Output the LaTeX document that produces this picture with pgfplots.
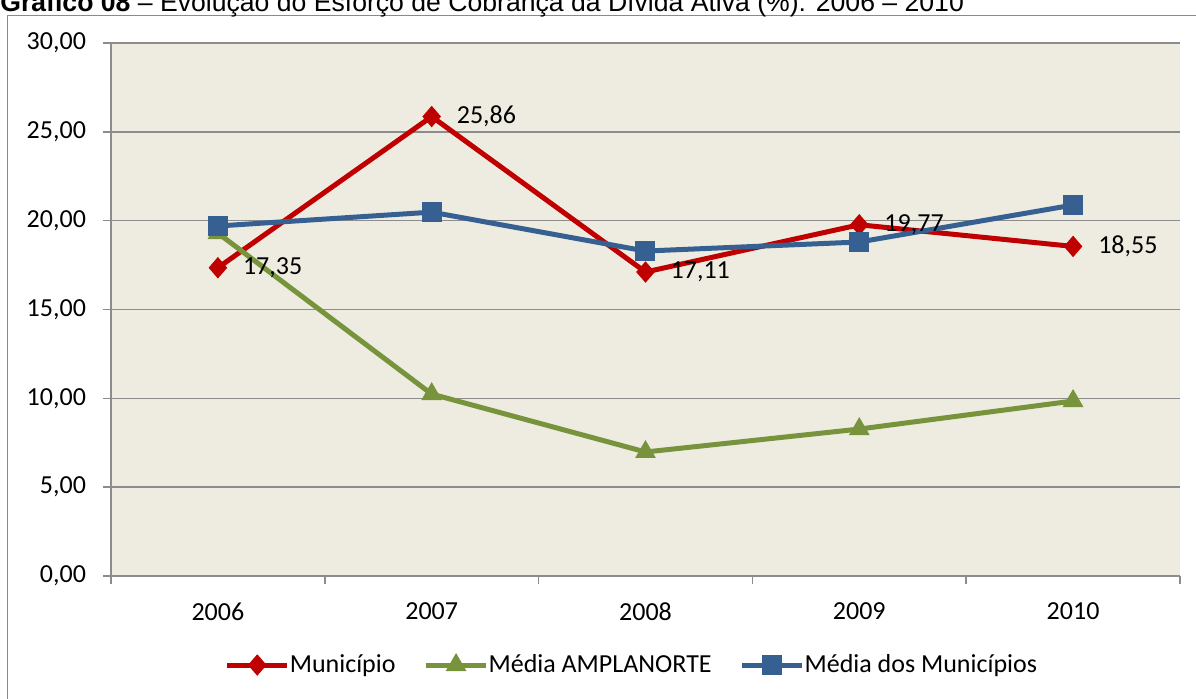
\documentclass[border=0pt]{standalone}
\usepackage{fontspec}
\setmainfont{Carlito}
\newfontfamily\arialfont{Liberation Sans}
\usepackage{pgfplots}
\pgfplotsset{compat=1.18}
\definecolor{cred}{HTML}{C00000}
\definecolor{cgreen}{HTML}{77933C}
\definecolor{cblue}{HTML}{376092}
\definecolor{bg}{HTML}{EEECE1}
\definecolor{gridgray}{HTML}{8C8C8C}
\definecolor{framegray}{HTML}{8A8A8A}
\begin{document}
\begin{tikzpicture}
\useasboundingbox (0,0) rectangle (598pt,349pt);
\draw[framegray, line width=0.75pt] (3.75pt,-5pt) -- (3.75pt,341.25pt) -- (610pt,341.25pt);
\node[anchor=base west, inner sep=0pt, font=\arialfont\fontsize{13.3}{15}\selectfont] at (0pt,343pt) {\textbf{Gráfico 08} – Evolução do Esforço de Cobrança da Dívida Ativa (\%): 2006 – 2010};
\begin{axis}[
  at={(55.5pt,61pt)}, anchor=south west, scale only axis,
  width=534.5pt, height=266.5pt,
  xmin=-0.5, xmax=4.5, ymin=0, ymax=30,
  axis x line*=bottom, axis y line*=left,
  axis line style={draw=gridgray, line width=0.75pt},
  xtick={0,1,2,3,4}, xticklabels={2006,2007,2008,2009,2010},
  minor xtick={-0.5,0.5,1.5,2.5,3.5,4.5},
  every major x tick/.append style={draw=none},
  xticklabel shift=6pt,
  ytick={0,5,10,15,20,25,30},
  tick align=outside, major tick length=4pt, minor tick length=4pt,
  tick style={draw=gridgray, line width=0.75pt},
  ymajorgrids, grid style={draw=gridgray, line width=0.75pt},
  axis background/.style={fill=bg},
  yticklabel shift=5pt,
  yticklabel style={/pgf/number format/.cd, fixed, fixed zerofill, precision=2, use comma},
  /pgf/number format/assume math mode=true,
  tick label style={font=\fontsize{13}{15}\selectfont, text=black},
  legend style={at={(0.4864,-0.167)}, anchor=center, draw=none, fill=none,
    legend columns=-1, font=\fontsize{13}{15}\selectfont,
    /tikz/every even column/.append style={column sep=14pt},
    nodes={inner xsep=0pt}},
  legend image code/.code={\draw[#1, mark repeat=2, mark phase=2] plot coordinates {(0pt,0pt) (15pt,0pt) (30pt,0pt)};},
]
\addplot[cred, line width=2.5pt, mark=diamond*, mark size=5pt,
  mark options={solid, line width=0.5pt, xscale=1.15},
  nodes near coords={\pgfmathprintnumber[fixed,fixed zerofill,precision=2,use comma,assume math mode=true]{\pgfplotspointmeta}},
  nodes near coords align={horizontal},
  every node near coord/.append style={anchor=west, xshift=9pt, text=black, font=\fontsize{13}{15}\selectfont}]
  coordinates {(0,17.35) (1,25.86) (2,17.11) (3,19.77) (4,18.55)};
\addlegendentry{Município}
\addplot[cgreen, line width=2.5pt, mark=triangle*, mark size=5.5pt,
  mark options={solid, line width=0.5pt}]
  coordinates {(0,19.30) (1,10.24) (2,6.98) (3,8.27) (4,9.85)};
\addlegendentry{Média AMPLANORTE}
\addplot[cblue, line width=2.5pt, mark=square*, mark size=4.75pt,
  mark options={solid, line width=0.5pt}]
  coordinates {(0,19.70) (1,20.48) (2,18.29) (3,18.80) (4,20.88)};
\addlegendentry{Média dos Municípios}
\end{axis}
\end{tikzpicture}
\end{document}
